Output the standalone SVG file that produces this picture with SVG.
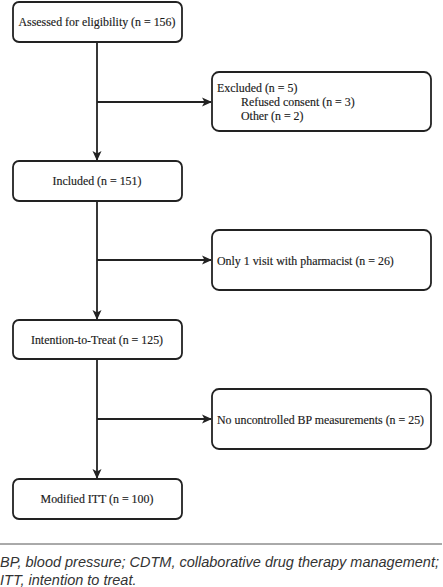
<svg xmlns="http://www.w3.org/2000/svg" width="443" height="587" viewBox="0 0 443 587">
<style>
.box{fill:#fff;stroke:#222;stroke-width:1.8}
.t{font-family:"Liberation Serif","Times New Roman",serif;font-size:11.9px;fill:#1a1a1a;stroke:#1a1a1a;stroke-width:0.15}
.c{text-anchor:middle}
.ln{stroke:#222;stroke-width:1.8;fill:none}
.fn{font-family:"Liberation Sans",Arial,sans-serif;font-style:italic;font-size:14.5px;fill:#333}
</style>
<defs>
<marker id="ah" markerWidth="10" markerHeight="10" refX="9" refY="5" orient="auto" markerUnits="userSpaceOnUse">
<path d="M0,0.5 L10,5 L0,9.5 L2.5,5 Z" fill="#222"/>
</marker>
</defs>
<rect width="443" height="587" fill="#fff"/>
<g id="connectors">
<line class="ln" x1="97" y1="42" x2="97" y2="160" marker-end="url(#ah)"/>
<line class="ln" x1="97" y1="102" x2="211" y2="102" marker-end="url(#ah)"/>
<line class="ln" x1="97" y1="201" x2="97" y2="319" marker-end="url(#ah)"/>
<line class="ln" x1="97" y1="260" x2="211" y2="260" marker-end="url(#ah)"/>
<line class="ln" x1="97" y1="359" x2="97" y2="478" marker-end="url(#ah)"/>
<line class="ln" x1="97" y1="419" x2="211" y2="419" marker-end="url(#ah)"/>
</g>
<g id="n1">
<rect class="box" x="13" y="2" width="169" height="40" rx="6"/>
<text class="t c" x="97" y="26">Assessed for eligibility (n = 156)</text>
</g>
<g id="n2">
<rect class="box" x="212" y="72" width="219" height="59" rx="7"/>
<text class="t" x="217" y="92">Excluded (n = 5)</text>
<text class="t" x="241" y="106">Refused consent (n = 3)</text>
<text class="t" x="241" y="120">Other (n = 2)</text>
</g>
<g id="n3">
<rect class="box" x="13" y="161" width="169" height="40" rx="6"/>
<text class="t c" x="97" y="185">Included (n = 151)</text>
</g>
<g id="n4">
<rect class="box" x="212" y="230" width="219" height="60" rx="7"/>
<text class="t" x="217" y="265">Only 1 visit with pharmacist (n = 26)</text>
</g>
<g id="n5">
<rect class="box" x="13" y="320" width="169" height="39" rx="6"/>
<text class="t c" x="97" y="344">Intention-to-Treat (n = 125)</text>
</g>
<g id="n6">
<rect class="box" x="212" y="389" width="219" height="60" rx="7"/>
<text class="t" x="217" y="424">No uncontrolled BP measurements (n = 25)</text>
</g>
<g id="n7">
<rect class="box" x="13" y="479" width="169" height="40" rx="6"/>
<text class="t c" x="97" y="503">Modified ITT (n = 100)</text>
</g>
<line x1="0" y1="544" x2="442" y2="544" stroke="#555" stroke-width="1"/>
<text class="fn" x="0" y="567">BP, blood pressure; CDTM, collaborative drug therapy management;</text>
<text class="fn" x="0" y="585">ITT, intention to treat.</text>
</svg>
